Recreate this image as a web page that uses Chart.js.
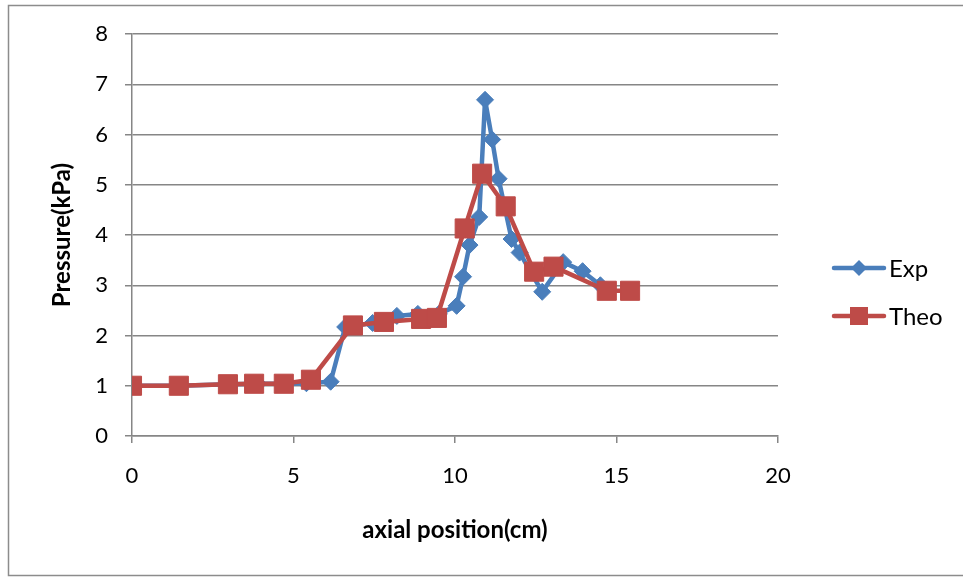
<!DOCTYPE html>
<html>
<head>
<meta charset="utf-8">
<script src="https://cdn.jsdelivr.net/npm/chart.js@4/dist/chart.umd.min.js"></script>
<style>
html,body{margin:0;padding:0;background:#fff;}
#wrap{width:963px;height:578px;position:relative;}
</style>
</head>
<body>
<div id="wrap"><canvas id="c" width="963" height="578"></canvas></div>
<script>
const expX = [0, 1.45, 3.0, 3.9, 4.7, 5.4, 6.15, 6.6, 7.45, 8.2, 8.85, 9.5, 10.05, 10.25, 10.45, 10.75, 10.93, 11.15, 11.35, 11.75, 12.0, 12.7, 13.35, 13.95, 14.5, 14.7];
const expY = [1.0, 1.0, 1.03, 1.04, 1.04, 1.05, 1.08, 2.17, 2.25, 2.39, 2.43, 2.43, 2.59, 3.17, 3.8, 4.36, 6.69, 5.9, 5.12, 3.92, 3.65, 2.87, 3.46, 3.28, 3.0, 2.9];
const theoX = [0, 1.45, 2.97, 3.78, 4.7, 5.54, 6.84, 7.8, 8.95, 9.44, 10.3, 10.84, 11.57, 12.45, 13.05, 14.7, 15.42];
const theoY = [1.0, 1.0, 1.03, 1.04, 1.04, 1.12, 2.2, 2.27, 2.33, 2.35, 4.13, 5.22, 4.57, 3.27, 3.37, 2.89, 2.89];
const seriesNames = ['Exp', 'Theo'];
const xTitle = 'axial position(cm)';
const yTitle = 'Pressure(kPa)';

const BLUE = '#4A7EBB';
const RED = '#BE4B48';
const GRID = '#868686';
const FONT = 'Lato, "Open Sans", "DejaVu Sans", sans-serif';

function pts(xs, ys){ return xs.map((x,i)=>({x:x, y:ys[i]})); }

const framePlugin = {
  id: 'frame',
  beforeDraw(chart){
    const ctx = chart.ctx;
    ctx.save();
    ctx.fillStyle = '#fff';
    ctx.fillRect(0,0,chart.width,chart.height);
    ctx.strokeStyle = '#8c8c8c';
    ctx.lineWidth = 1.5;
    ctx.strokeRect(8.5, 5.5, 1000, 570);
    ctx.restore();
  }
};

const legendPlugin = {
  id: 'customLegend',
  afterDraw(chart){
    const ctx = chart.ctx;
    const rows = [{y:268}, {y:316}];
    chart.data.datasets.forEach((ds, i) => {
      const y = rows[i].y;
      ctx.save();
      ctx.strokeStyle = ds.borderColor;
      ctx.lineWidth = 4.5;
      ctx.lineCap = 'round';
      ctx.beginPath();
      ctx.moveTo(834, y);
      ctx.lineTo(884, y);
      ctx.stroke();
      ctx.fillStyle = ds.pointBackgroundColor;
      ctx.beginPath();
      if (ds.pointStyle === 'rectRot') {
        ctx.moveTo(859-8, y); ctx.lineTo(859, y-8); ctx.lineTo(859+8, y); ctx.lineTo(859, y+8);
        ctx.closePath();
      } else {
        ctx.rect(859-9, y-9, 18, 18);
      }
      ctx.fill();
      ctx.fillStyle = '#000';
      ctx.font = '24px ' + FONT;
      ctx.textBaseline = 'middle';
      ctx.textAlign = 'left';
      ctx.fillText(ds.label, 889, y+1);
      ctx.restore();
    });
  }
};

new Chart(document.getElementById('c'), {
  type: 'scatter',
  data: {
    datasets: [
      {
        label: seriesNames[0],
        data: pts(expX, expY),
        showLine: true,
        borderColor: BLUE,
        backgroundColor: BLUE,
        pointBackgroundColor: BLUE,
        pointBorderColor: BLUE,
        borderWidth: 4.5,
        borderJoinStyle: 'round',
        pointStyle: 'rectRot',
        pointRadius: 8.5,
        pointBorderWidth: 1,
        order: 2
      },
      {
        label: seriesNames[1],
        data: pts(theoX, theoY),
        showLine: true,
        borderColor: RED,
        backgroundColor: RED,
        pointBackgroundColor: RED,
        pointBorderColor: RED,
        borderWidth: 4.5,
        borderJoinStyle: 'round',
        pointStyle: 'rect',
        pointRadius: 13.5,
        pointBorderWidth: 1,
        order: 1
      }
    ]
  },
  options: {
    responsive: false,
    animation: false,
    devicePixelRatio: 1,
    layout: { padding: { left: 0, top: 34, right: 185, bottom: 0 } },
    plugins: { legend: { display: false }, tooltip: { enabled: false } },
    scales: {
      x: {
        type: 'linear',
        min: 0, max: 20,
        ticks: { stepSize: 5, color: '#000', font: { size: 22, family: FONT }, padding: 20 },
        grid: { drawOnChartArea: false, drawTicks: true, tickLength: 7, color: GRID, lineWidth: 1.5 },
        border: { display: true, color: GRID, width: 1.5 },
        title: { display: true, text: xTitle, color: '#000', font: { size: 24, weight: 'bold', family: FONT }, padding: { top: 0, bottom: 33 } },
        afterFit(scale){ scale.height = 142; }
      },
      y: {
        type: 'linear',
        min: 0, max: 8,
        ticks: { stepSize: 1, color: '#000', font: { size: 22, family: FONT }, padding: 17 },
        grid: { drawOnChartArea: true, drawTicks: true, tickLength: 7, color: GRID, lineWidth: 1.5 },
        border: { display: true, color: GRID, width: 1.5 },
        title: { display: true, text: yTitle, color: '#000', font: { size: 24, weight: 'bold', family: FONT }, padding: { top: 48, bottom: 0 } },
        afterFit(scale){ scale.width = 132; }
      }
    }
  },
  plugins: [framePlugin, legendPlugin]
});
</script>
</body>
</html>
